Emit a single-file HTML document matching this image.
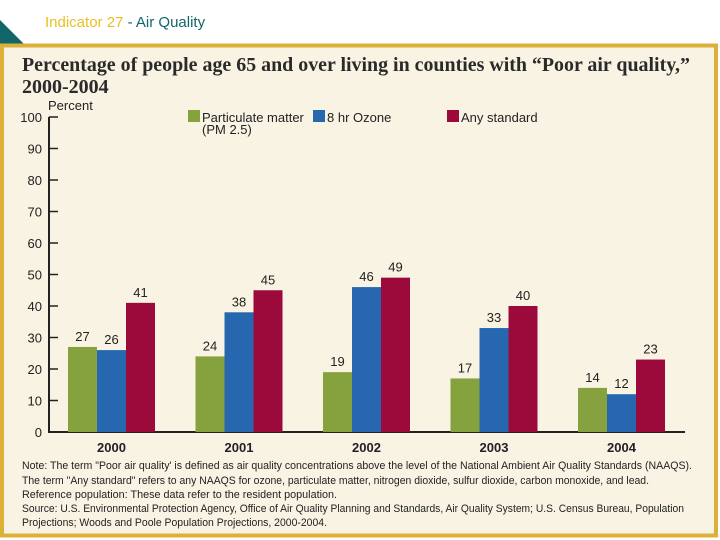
<!DOCTYPE html>
<html><head><meta charset="utf-8"><style>
html,body{margin:0;padding:0;background:#fff;}
svg{display:block;font-family:"Liberation Sans",sans-serif;}
</style></head><body>
<svg width="720" height="540" viewBox="0 0 720 540">
<text x="45" y="27" font-size="15" fill="#e8c020">Indicator 27 <tspan fill="#11666a">- Air Quality</tspan></text>
<polygon points="0,20 25,45 0,45" fill="#11666a"/>
<rect x="2" y="45.5" width="714" height="490" fill="#f9f3e3" stroke="#dcb13a" stroke-width="4"/>
<text x="22" y="71" font-family="'Liberation Serif',serif" font-weight="bold" font-size="20" fill="#2a2a2a" textLength="668" lengthAdjust="spacingAndGlyphs">Percentage of people age 65 and over living in counties with “Poor air quality,”</text>
<text x="22" y="93" font-family="'Liberation Serif',serif" font-weight="bold" font-size="20" fill="#2a2a2a">2000-2004</text>
<text x="48" y="110" font-size="13" fill="#222">Percent</text>
<g id="legend" font-size="13" fill="#222">
<rect x="188" y="110" width="12" height="12" fill="#86a23e"/>
<text x="202" y="122">Particulate matter</text>
<text x="202" y="134">(PM 2.5)</text>
<rect x="313" y="110" width="12" height="12" fill="#2667b0"/>
<text x="327" y="122">8 hr Ozone</text>
<rect x="447" y="110" width="12" height="12" fill="#9b0a3b"/>
<text x="461" y="122">Any standard</text>
</g>
<g id="axes"></g>
<g id="bars"></g>
<g id="notes" font-size="11" fill="#222">
<text x="22" y="469" textLength="670" lengthAdjust="spacingAndGlyphs">Note: The term "Poor air quality' is defined as air quality concentrations above the level of the National Ambient Air Quality Standards (NAAQS).</text>
<text x="22" y="484" textLength="627" lengthAdjust="spacingAndGlyphs">The term "Any standard" refers to any NAAQS for ozone, particulate matter, nitrogen dioxide, sulfur dioxide, carbon monoxide, and lead.</text>
<text x="22" y="498" textLength="315" lengthAdjust="spacingAndGlyphs">Reference population: These data refer to the resident population.</text>
<text x="22" y="512" textLength="662" lengthAdjust="spacingAndGlyphs">Source: U.S. Environmental Protection Agency, Office of Air Quality Planning and Standards, Air Quality System; U.S. Census Bureau, Population</text>
<text x="22" y="526" textLength="305" lengthAdjust="spacingAndGlyphs">Projections; Woods and Poole Population Projections, 2000-2004.</text>
</g>
</svg>
<script>
const years = ["2000","2001","2002","2003","2004"];
const pmValues = [27,24,19,17,14];
const ozoneValues = [26,38,46,33,12];
const anyValues = [41,45,49,40,23];
const yTicks = [0,10,20,30,40,50,60,70,80,90,100];

const NS="http://www.w3.org/2000/svg";
const y0=432, yTop=117, xAxis=49, xEnd=685;
const yScale=v=>y0-(y0-yTop)*v/100;
const groupStart=i=>68+i*127.5;
const bw=29;
function mk(tag,attrs,parent,txt){const e=document.createElementNS(NS,tag);for(const k in attrs)e.setAttribute(k,attrs[k]);if(txt!==undefined)e.textContent=txt;parent.appendChild(e);return e;}
const axes=document.getElementById('axes');
let a=mk('line',{x1:xAxis,y1:yTop,x2:xAxis,y2:y0,stroke:'#222','stroke-width':2},axes);


a=mk('line',{x1:xAxis-1,y1:y0,x2:xEnd,y2:y0,stroke:'#222','stroke-width':2},axes);


yTicks.forEach(t=>{
  const y=yScale(t);
  const l=mk('line',{x1:xAxis,y1:y,x2:xAxis+9,y2:y,stroke:'#222','stroke-width':1.5},axes);
  
  
  const tx=mk('text',{x:42,y:y+5,'text-anchor':'end','font-size':13,fill:'#222'},axes,String(t));
  
  
});
const bars=document.getElementById('bars');
const series=[["pm",pmValues,"#86a23e"],["ozone",ozoneValues,"#2667b0"],["any",anyValues,"#9b0a3b"]];
years.forEach((yr,i)=>{
  series.forEach((s,j)=>{
    const v=s[1][i];const x=groupStart(i)+j*bw;const y=yScale(v);
    const r=mk('rect',{x:x,y:y,width:bw,height:y0-y,fill:s[2]},bars);
    
    
    const t=mk('text',{x:x+bw/2,y:y-6,'text-anchor':'middle','font-size':13,fill:'#222'},bars,String(v));
    
    
  });
  const c=mk('text',{x:groupStart(i)+bw*1.5,y:452,'text-anchor':'middle','font-size':13,'font-weight':'bold',fill:'#222'},bars,yr);
  
  
});
</script>
</body></html>
